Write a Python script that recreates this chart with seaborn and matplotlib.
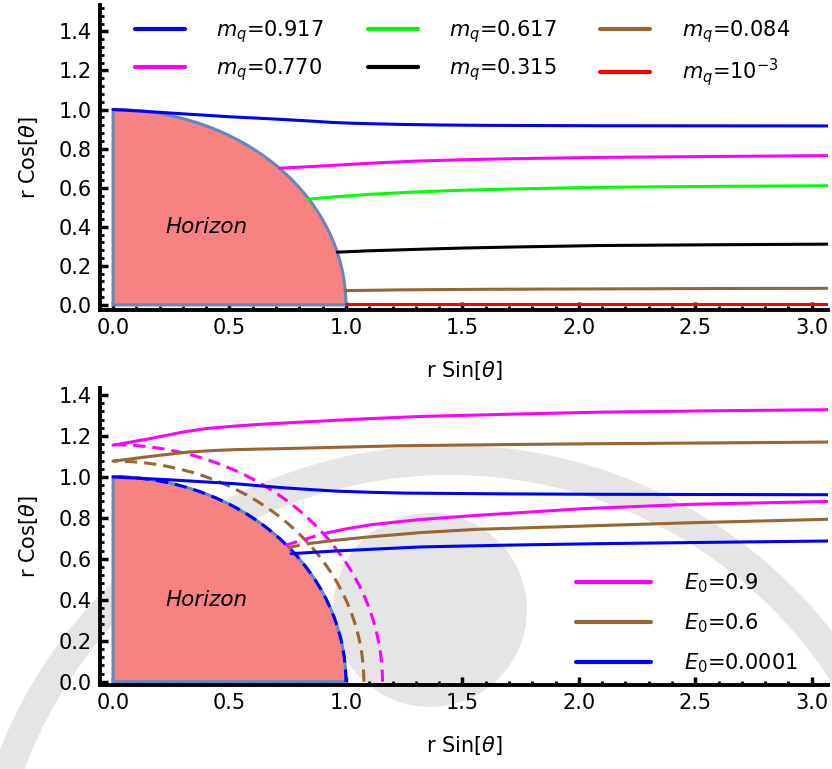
import numpy as np
import pandas as pd
import matplotlib
matplotlib.use('Agg')
import matplotlib.pyplot as plt
import seaborn as sns
from matplotlib.patches import Wedge, Arc, Circle
from matplotlib.transforms import IdentityTransform
from matplotlib.ticker import MultipleLocator

# ---------------- data ----------------
# top panel: embeddings for several quark masses
top_labels = [r'$m_q$=0.917', r'$m_q$=0.770', r'$m_q$=0.617',
              r'$m_q$=0.315', r'$m_q$=0.084', r'$m_q$=10$^{-3}$']
top_colors = ['#0000FF', '#FF00FF', '#00FF00', '#000000', '#996633', '#FF0000']

mq0917_x = [0, 0.12, 0.3, 0.5, 0.7, 0.85, 0.94, 1.05, 1.23, 1.4, 1.6, 2.09, 3.07]
mq0917_y = [1.0, 0.992, 0.978, 0.963, 0.951, 0.941, 0.934, 0.929, 0.924, 0.921, 0.919, 0.917, 0.916]
mq0770_x = [0.717, 0.85, 1.0, 1.15, 1.3, 1.5, 1.7, 2.09, 2.6, 3.07]
mq0770_y = [0.70, 0.708, 0.718, 0.728, 0.736, 0.743, 0.748, 0.755, 0.760, 0.764]
mq0617_x = [0.838, 0.95, 1.1, 1.3, 1.5, 1.7, 2.09, 2.6, 3.07]
mq0617_y = [0.541, 0.553, 0.566, 0.578, 0.587, 0.593, 0.602, 0.607, 0.61]
mq0315_x = [0.963, 1.1, 1.32, 1.5, 1.7, 2.09, 2.6, 3.07]
mq0315_y = [0.27, 0.277, 0.285, 0.291, 0.296, 0.304, 0.308, 0.311]
mq0084_x = [0.996, 1.23, 1.6, 2.09, 2.6, 3.07]
mq0084_y = [0.073, 0.077, 0.080, 0.082, 0.084, 0.085]
mq0001_x = [1.0, 2.0, 3.07]
mq0001_y = [0.003, 0.003, 0.003]

top_x = [mq0917_x, mq0770_x, mq0617_x, mq0315_x, mq0084_x, mq0001_x]
top_y = [mq0917_y, mq0770_y, mq0617_y, mq0315_y, mq0084_y, mq0001_y]

# bottom panel: two embeddings for each electric field
bot_labels = [r'$E_0$=0.9', r'$E_0$=0.6', r'$E_0$=0.0001']
bot_colors = ['#FF00FF', '#996633', '#0000FF']
bot_radius = [1.157, 1.077, 1.0]          # dashed (singular-shell) circles

E09_up_x = [0, 0.16, 0.3, 0.4, 0.52, 0.65, 0.8, 1.09, 1.32, 1.7, 2.09, 2.6, 3.07]
E09_up_y = [1.155, 1.187, 1.219, 1.236, 1.248, 1.258, 1.267, 1.284, 1.295, 1.306, 1.316, 1.323, 1.328]
E06_up_x = [0, 0.16, 0.32, 0.42, 0.52, 0.8, 1.23, 1.7, 2.09, 2.6, 3.07]
E06_up_y = [1.077, 1.10, 1.121, 1.128, 1.133, 1.14, 1.152, 1.158, 1.162, 1.166, 1.17]
E00_up_x = [0, 0.24, 0.52, 0.73, 0.85, 0.95, 1.1, 1.25, 1.7, 2.09, 3.07]
E00_up_y = [1.0, 0.986, 0.967, 0.947, 0.938, 0.931, 0.925, 0.921, 0.917, 0.915, 0.913]

E09_lo_x = [0.903, 1.0, 1.11, 1.32, 1.56, 2.02, 2.475, 3.07]
E09_lo_y = [0.723, 0.746, 0.767, 0.792, 0.812, 0.845, 0.866, 0.88]
E06_lo_x = [0.838, 0.95, 1.09, 1.32, 1.56, 2.02, 2.475, 3.07]
E06_lo_y = [0.674, 0.69, 0.706, 0.728, 0.744, 0.76, 0.776, 0.793]
E00_lo_x = [0.765, 0.95, 1.32, 1.7, 2.09, 2.6, 3.07]
E00_lo_y = [0.625, 0.638, 0.658, 0.667, 0.674, 0.681, 0.687]

# parts of the lower embeddings inside the shell (drawn dashed)
E09_in_x = [0.74, 0.903]
E09_in_y = [0.666, 0.723]
E06_in_x = [0.75, 0.838]
E06_in_y = [0.655, 0.674]

bot_up_x = [E09_up_x, E06_up_x, E00_up_x]
bot_up_y = [E09_up_y, E06_up_y, E00_up_y]
bot_lo_x = [E09_lo_x, E06_lo_x, E00_lo_x]
bot_lo_y = [E09_lo_y, E06_lo_y, E00_lo_y]
bot_in_x = [E09_in_x, E06_in_x]
bot_in_y = [E09_in_y, E06_in_y]

x_ticks = [0.0, 0.5, 1.0, 1.5, 2.0, 2.5, 3.0]
y_ticks = [0.0, 0.2, 0.4, 0.6, 0.8, 1.0, 1.2, 1.4]

# ---------------- style ----------------
sns.set_theme(style='ticks')
plt.rcParams['font.family'] = ['DejaVu Sans']
plt.rcParams['mathtext.fontset'] = 'dejavusans'
plt.rcParams['text.color'] = 'black'
plt.rcParams['axes.labelcolor'] = 'black'

HOR_FACE = '#F78282'
HOR_EDGE = (0.40, 0.53, 0.74)
LW = 2.2
W, H = 832, 769

fig = plt.figure(figsize=(8.32, 7.69), dpi=100)

# faint background watermark (light-grey seal behind the lower panel)
WM = '#e5e5e5'
fig.patches.append(Wedge((450, H - 930), 485, 0, 180, width=30, facecolor=WM,
                         edgecolor='none', transform=IdentityTransform(),
                         zorder=-5))
fig.patches.append(Circle((430, H - 610), 97, facecolor=WM, edgecolor='none',
                          transform=IdentityTransform(), zorder=-5))

ax1 = fig.add_axes([100 / W, 1 - 310 / H, 728 / W, 305 / H])
ax2 = fig.add_axes([100 / W, 1 - 685 / H, 728 / W, 297 / H])


def style_axes(ax, ylim):
    ax.set_xlim(-0.056, 3.07)
    ax.set_ylim(*ylim)
    ax.set_xticks(x_ticks)
    ax.set_yticks(y_ticks)
    ax.set_xticklabels([f'{v:.1f}' for v in x_ticks])
    ax.set_yticklabels([f'{v:.1f}' for v in y_ticks])
    ax.xaxis.set_minor_locator(MultipleLocator(0.1))
    ax.yaxis.set_minor_locator(MultipleLocator(0.04))
    for s in ['top', 'right']:
        ax.spines[s].set_visible(False)
    for s in ['left', 'bottom']:
        ax.spines[s].set_linewidth(2.8)
        ax.spines[s].set_color('black')
    ax.tick_params(which='major', direction='in', length=6, width=2.5,
                   labelsize=15, color='black', labelcolor='black')
    ax.tick_params(which='minor', direction='in', length=3, width=2.0, color='black')
    ax.tick_params(axis='x', which='major', pad=6)
    ax.tick_params(axis='y', which='major', pad=6)
    ax.set_xlabel(r'r Sin[$\theta$]', fontsize=15, labelpad=15)
    ax.set_ylabel(r'r Cos[$\theta$]', fontsize=15, labelpad=13.5)
    ax.set_facecolor('none')
    w = Wedge((0, 0), 1.0, 0, 90, facecolor=HOR_FACE, edgecolor=HOR_EDGE,
              lw=2.2, zorder=1)
    ax.add_patch(w)
    ax.text(0.40, 0.40, 'Horizon', style='italic', fontsize=15.5, color='black',
            ha='center', va='center', zorder=2)


style_axes(ax1, (-0.026, 1.535))
style_axes(ax2, (-0.016, 1.434))

# ---------------- top panel ----------------
for xs, ys, c, lab in zip(top_x, top_y, top_colors, top_labels):
    sns.lineplot(x=xs, y=ys, color=c, lw=LW, ax=ax1, label=lab,
                 errorbar=None, zorder=3)

leg1 = ax1.legend(loc='upper left', bbox_to_anchor=(0.048, 0.958), ncol=3,
                  frameon=False, fontsize=15, handlelength=2.4,
                  handletextpad=1.5, columnspacing=2.1, labelspacing=0.56,
                  borderpad=0, borderaxespad=0)
for line in leg1.get_lines():
    line.set_linewidth(3)

# ---------------- bottom panel ----------------
for r, c in zip(bot_radius, bot_colors):
    arc = Arc((0, 0), 2 * r, 2 * r, theta1=0, theta2=90, color=c, lw=LW,
              ls=(0, (4, 2.3)), zorder=3)
    ax2.add_patch(arc)

for xs, ys, c, lab in zip(bot_up_x, bot_up_y, bot_colors, bot_labels):
    sns.lineplot(x=xs, y=ys, color=c, lw=LW, ax=ax2, label=lab,
                 errorbar=None, zorder=4)
for xs, ys, c in zip(bot_lo_x, bot_lo_y, bot_colors):
    sns.lineplot(x=xs, y=ys, color=c, lw=LW, ax=ax2, errorbar=None, zorder=4)
for xs, ys, c in zip(bot_in_x, bot_in_y, bot_colors[:2]):
    sns.lineplot(x=xs, y=ys, color=c, lw=LW, ax=ax2, errorbar=None,
                 linestyle=(0, (4, 2.3)), zorder=4)

leg2 = ax2.legend(loc='lower left', bbox_to_anchor=(0.654, 0.035),
                  frameon=False, fontsize=15, handlelength=3.6,
                  handletextpad=1.6, labelspacing=0.78,
                  borderpad=0, borderaxespad=0)
for line in leg2.get_lines():
    line.set_linewidth(3)

fig.savefig('out.png', dpi=100)
